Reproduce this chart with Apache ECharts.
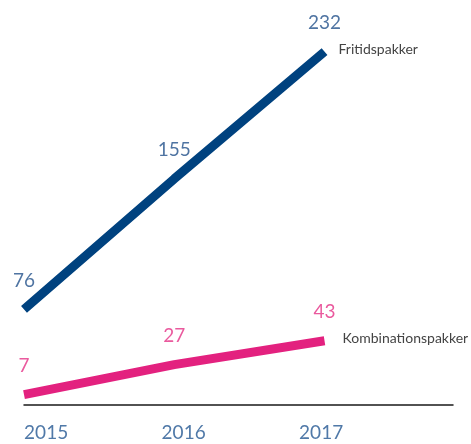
<!DOCTYPE html>
<html>
<head>
<meta charset="utf-8">
<style>
  html, body { margin: 0; padding: 0; background: #fff; }
  #chart { width: 471px; height: 444px; }
</style>
<script src="https://cdn.jsdelivr.net/npm/echarts@6/dist/echarts.min.js"></script>
</head>
<body>
<div id="chart"></div>
<script>
const years = [2015, 2016, 2017]
const fritidspakker = [76, 155, 232]
const kombinationspakker = [7, 27, 43]

const font = 'Lato, "Open Sans", sans-serif'

const chart = echarts.init(document.getElementById('chart'))
chart.setOption({
  animation: false,
  backgroundColor: '#fff',
  grid: {
    left: 24,
    right: 18,
    top: 20,
    bottom: 36
  },
  xAxis: [{
    // axis for the lines and the baseline
    type: 'value',
    min: 2015,
    max: 2017.855,
    axisLine: { show: true, lineStyle: { color: '#1a1a1a', width: 1.5 } },
    axisTick: { show: false },
    axisLabel: { show: false },
    splitLine: { show: false }
  }, {
    // year labels only
    type: 'value',
    position: 'bottom',
    min: 2014.839,
    max: 2017.959,
    axisLine: { show: false },
    axisTick: { show: false },
    splitLine: { show: false },
    axisLabel: {
      customValues: years,
      margin: 15,
      color: '#5079a8',
      fontFamily: font,
      fontSize: 19,
      formatter: v => String(v)
    }
  }],
  yAxis: [{
    type: 'value',
    min: 16.3,
    max: 251.1,
    show: false
  }, {
    type: 'value',
    min: -2,
    max: 257.7,
    show: false
  }],
  series: [{
    name: 'Fritidspakker',
    type: 'line',
    xAxisIndex: 0,
    yAxisIndex: 0,
    data: years.map((y, i) => [y, fritidspakker[i]]),
    symbol: 'circle',
    symbolSize: 0,
    lineStyle: { color: '#00427f', width: 9, cap: 'butt' },
    itemStyle: { color: '#00427f' },
    label: {
      show: true,
      position: 'top',
      distance: 19,
      color: '#4f74a2',
      fontFamily: font,
      fontSize: 19,
      formatter: p => p.value[1]
    },
    endLabel: {
      show: true,
      distance: 14,
      offset: [0, -2],
      color: '#444',
      fontFamily: font,
      fontSize: 14,
      formatter: p => p.seriesName
    }
  }, {
    name: 'Kombinationspakker',
    type: 'line',
    xAxisIndex: 0,
    yAxisIndex: 1,
    data: years.map((y, i) => [y, kombinationspakker[i]]),
    symbol: 'circle',
    symbolSize: 0,
    lineStyle: { color: '#e3217f', width: 9, cap: 'butt' },
    itemStyle: { color: '#e3217f' },
    label: {
      show: true,
      position: 'top',
      distance: 19,
      color: '#ea5a9e',
      fontFamily: font,
      fontSize: 19,
      formatter: p => p.value[1]
    },
    endLabel: {
      show: true,
      distance: 18,
      offset: [0, -2],
      color: '#444',
      fontFamily: font,
      fontSize: 14,
      formatter: p => p.seriesName
    }
  }]
})
</script>
</body>
</html>
